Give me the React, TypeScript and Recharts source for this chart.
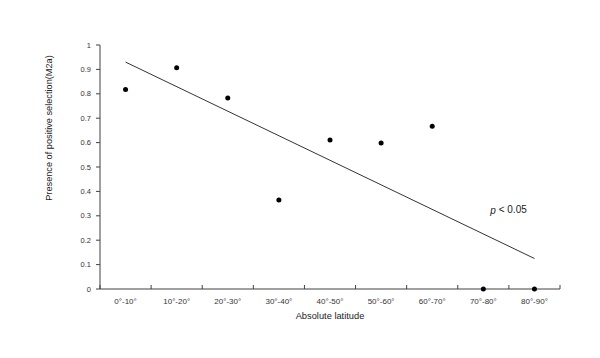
import { ComposedChart, Line, XAxis, YAxis, ReferenceDot } from 'recharts';

document.body.style.margin = '0';

const categories = ['0°-10°', '10°-20°', '20°-30°', '30°-40°', '40°-50°', '50°-60°', '60°-70°', '70°-80°', '80°-90°'];
const presence = [0.818, 0.907, 0.783, 0.365, 0.611, 0.598, 0.667, 0, 0];
// fitted line, read at the first and last category
const trend = [0.93, null, null, null, null, null, null, null, 0.125];
const yTicks = [0, 0.1, 0.2, 0.3, 0.4, 0.5, 0.6, 0.7, 0.8, 0.9, 1];

const data = categories.map((c, i) => ({ cat: c, presence: presence[i], trend: trend[i] }));

const W = 600;
const H = 358;
const MARGIN = { top: 45, right: 40, bottom: 39, left: 60 };
const Y_WIDTH = 40;
const PLOT_W = W - MARGIN.left - MARGIN.right - Y_WIDTH;
const BAND = PLOT_W / categories.length;
const FONT = '"Liberation Sans", Arial, sans-serif';
const AXIS = '#404040';

function XTick(props: any) {
  const { x, y, payload, index } = props;
  const left = x - BAND / 2;
  return (
    <g>
      <line x1={left} y1={y} x2={left} y2={y - 4} stroke={AXIS} />
      {index === categories.length - 1 && (
        <line x1={x + BAND / 2} y1={y} x2={x + BAND / 2} y2={y - 4} stroke={AXIS} />
      )}
      <text x={x} y={y + 15} textAnchor="middle" fontSize={8} fill="#333" fontFamily={FONT}>
        {payload.value}
      </text>
    </g>
  );
}

export default function App() {
  return (
    <div style={{ width: W, height: H, background: '#fff' }}>
      <ComposedChart width={W} height={H} data={data} margin={MARGIN}>
        <XAxis
          dataKey="cat"
          type="category"
          scale="band"
          interval={0}
          tickLine={false}
          tickSize={0}
          tickMargin={0}
          height={30}
          stroke={AXIS}
          tick={<XTick />}
          label={{
            value: 'Absolute latitude',
            position: 'insideBottom',
            offset: 0,
            fontSize: 9.3,
            fill: '#222',
            fontFamily: FONT,
          }}
        />
        <YAxis
          type="number"
          domain={[0, 1]}
          ticks={yTicks}
          width={Y_WIDTH}
          tickSize={4}
          tickMargin={5}
          stroke={AXIS}
          tick={{ fontSize: 7.5, fill: '#333', fontFamily: FONT }}
          label={{
            content: ({ viewBox }: any) => {
              const cx = viewBox.x - 11.5;
              const cy = MARGIN.top + 83;
              return (
                <text
                  x={cx}
                  y={cy}
                  transform={`rotate(-90 ${cx} ${cy})`}
                  textAnchor="middle"
                  dominantBaseline="central"
                  fontSize={9.2}
                  fill="#222"
                  fontFamily={FONT}
                >
                  Presence of positive selection(M2a)
                </text>
              );
            },
          }}
        />
        <Line
          dataKey="trend"
          type="linear"
          stroke="#333"
          strokeWidth={1}
          dot={false}
          connectNulls
          isAnimationActive={false}
        />
        <Line
          dataKey="presence"
          type="linear"
          stroke="none"
          dot={{ r: 2.5, fill: '#000', stroke: '#000', strokeWidth: 0 }}
          activeDot={false}
          isAnimationActive={false}
        />
        <ReferenceDot
          x="70°-80°"
          y={0.324}
          r={0}
          stroke="none"
          label={{
            content: ({ viewBox }: any) => (
              <text
                x={viewBox.x + 7}
                y={viewBox.y}
                dominantBaseline="central"
                fontSize={10}
                fill="#222"
                fontFamily={FONT}
              >
                <tspan fontStyle="italic">p</tspan> &lt; 0.05
              </text>
            ),
          }}
        />
      </ComposedChart>
    </div>
  );
}
